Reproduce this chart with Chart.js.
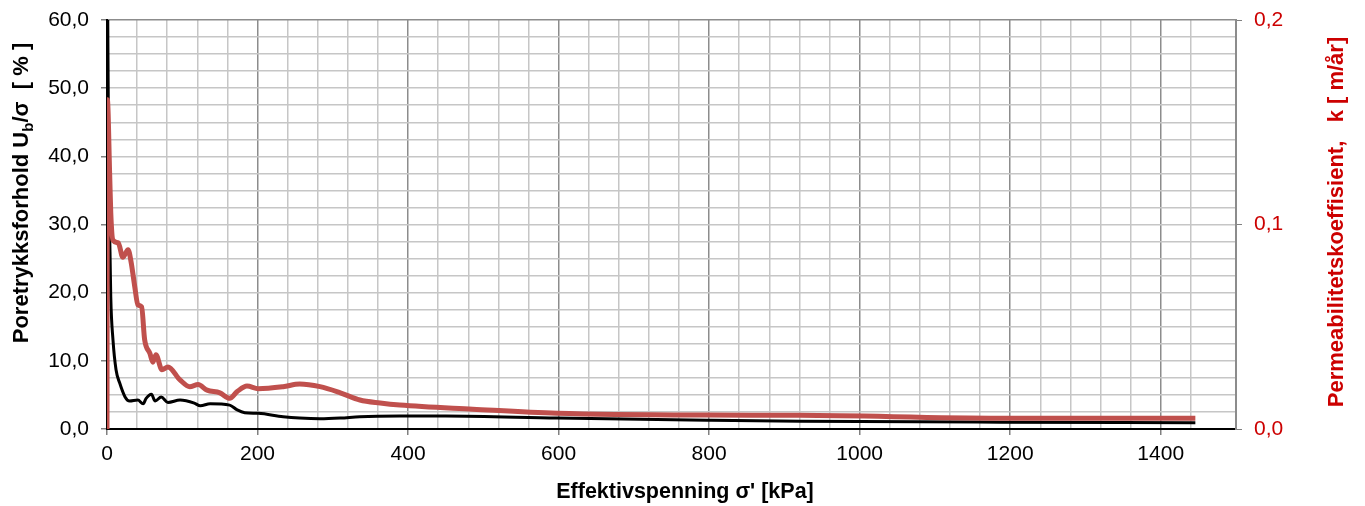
<!DOCTYPE html>
<html>
<head>
<meta charset="utf-8">
<script src="https://cdn.jsdelivr.net/npm/chart.js@4"></script>
<style>
  html, body { margin: 0; padding: 0; background: #fff; }
  #wrap { width: 1365px; height: 506px; position: relative; }
</style>
</head>
<body>
<div id="wrap"><canvas id="myChart"></canvas></div>
<script>
'use strict';

// poretrykksforhold (svart linje, venstre akse) [kPa] / [%]
const ubX = [1, 2.5, 4, 5, 8, 12, 17, 24, 30, 41, 48, 52, 59, 64, 72, 81, 97, 116, 124, 137, 163, 173, 183, 201, 234, 256, 283, 310, 336, 389, 450, 598, 797, 921, 1187, 1446];
const ubY = [60, 35, 26, 19.4, 13, 8.7, 6.7, 4.7, 4.1, 4.25, 3.7, 4.5, 5.1, 4.1, 4.7, 3.9, 4.25, 3.8, 3.4, 3.7, 3.5, 2.8, 2.4, 2.3, 1.8, 1.6, 1.5, 1.6, 1.8, 1.9, 1.9, 1.6, 1.3, 1.15, 1.0, 0.92];

// permeabilitet (rød linje, høyre akse) [kPa] / [m/år]
const kX = [0, 0.5, 3.5, 5, 8, 15, 21, 28, 32, 37, 41, 46, 50, 57, 61, 65, 73, 81, 97, 110, 121, 133, 150, 163, 173, 186, 201, 234, 256, 283, 310, 336, 363, 389, 486, 598, 797, 921, 1187, 1446];
const kY = [0, 0.161, 0.125, 0.1057, 0.0923, 0.091, 0.084, 0.0877, 0.0817, 0.0693, 0.0607, 0.0597, 0.0437, 0.037, 0.0327, 0.0363, 0.029, 0.0303, 0.024, 0.0207, 0.0217, 0.019, 0.0177, 0.015, 0.0183, 0.021, 0.0197, 0.0207, 0.022, 0.0207, 0.0177, 0.0142, 0.0127, 0.0117, 0.0097, 0.0077, 0.0068, 0.0067, 0.0053, 0.0053];

// akser
const xMax = 1500;
const leftMax = 60;
const rightMax = 0.2;
const xLabels = [0, 200, 400, 600, 800, 1000, 1200, 1400];
const leftLabels = [0, 10, 20, 30, 40, 50, 60];
const rightLabels = [0, 0.1, 0.2];

const FONT = "Arial, 'Liberation Sans', sans-serif";
const RED = '#cc0000';

const toPoints = (xs, ys) => xs.map((x, i) => ({ x: x, y: ys[i] }));
const near = (v, list) => list.some(l => Math.abs(v - l) < 1e-6);
const comma = (v, d) => v.toFixed(d).replace('.', ',');

// aksetitler (med senket b)
const titles = {
  id: 'titles',
  afterDraw(chart) {
    const ctx = chart.ctx;
    ctx.save();
    ctx.fillStyle = '#000';
    ctx.textBaseline = 'alphabetic';

    // venstre
    const big = 'bold 22px ' + FONT;
    const small = 'bold 15px ' + FONT;
    const p1 = 'Poretrykksforhold U', p2 = 'b', p3 = '/\u03c3  [ % ]';
    ctx.font = big;
    const w1 = ctx.measureText(p1).width, w3 = ctx.measureText(p3).width;
    ctx.font = small;
    const w2 = ctx.measureText(p2).width;
    const total = w1 + w2 + w3;
    ctx.translate(28, 193);
    ctx.rotate(-Math.PI / 2);
    let x = -total / 2;
    ctx.font = big;
    ctx.fillText(p1, x, 0);
    x += w1;
    ctx.font = small;
    ctx.fillText(p2, x, 5);
    x += w2;
    ctx.font = big;
    ctx.fillText(p3, x, 0);
    ctx.restore();

    // høyre
    ctx.save();
    ctx.fillStyle = RED;
    ctx.font = 'bold 22px ' + FONT;
    ctx.textAlign = 'center';
    ctx.textBaseline = 'middle';
    ctx.translate(1337, 222);
    ctx.rotate(-Math.PI / 2);
    ctx.fillText('Permeabilitetskoeffisient,   k [ m/år]', 0, 0);
    ctx.restore();

    // x
    ctx.save();
    ctx.fillStyle = '#000';
    ctx.font = 'bold 21.5px ' + FONT;
    ctx.textAlign = 'center';
    ctx.textBaseline = 'middle';
    ctx.fillText("Effektivspenning \u03c3' [kPa]", 685, 492);
    ctx.restore();
  }
};

const noPad = s => { s.paddingTop = 0; s.paddingBottom = 0; };

const ctxDom = document.getElementById('myChart').getContext('2d');

new Chart(ctxDom, {
  type: 'line',
  data: {
    datasets: [
      {
        label: 'k',
        data: toPoints(kX, kY),
        yAxisID: 'yR',
        borderColor: '#c0504d',
        borderWidth: 5,
        pointRadius: 0,
        cubicInterpolationMode: 'monotone',
        order: 0
      },
      {
        label: 'Ub/σ',
        data: toPoints(ubX, ubY),
        yAxisID: 'y',
        borderColor: '#000',
        borderWidth: 3,
        pointRadius: 0,
        cubicInterpolationMode: 'monotone',
        order: 1
      }
    ]
  },
  options: {
    responsive: true,
    maintainAspectRatio: false,
    animation: false,
    layout: { padding: { top: 20 } },
    plugins: {
      legend: { display: false },
      tooltip: { enabled: false }
    },
    scales: {
      x: {
        type: 'linear',
        min: 0,
        max: xMax,
        afterFit: s => { s.height = 77; s.paddingLeft = 0; s.paddingRight = 0; },
        ticks: {
          stepSize: 40,
          autoSkip: false,
          maxRotation: 0,
          padding: 7,
          color: '#000',
          font: { family: FONT, size: 21 },
          callback: v => near(v, xLabels) ? String(v) : ''
        },
        grid: {
          lineWidth: 1.5,
          tickLength: 6,
          color: c => (c.tick && c.tick.value % 200 === 0) ? '#8c8c8c' : '#c6c6c6',
          tickColor: c => (c.tick && near(c.tick.value, xLabels)) ? '#808080' : 'rgba(0,0,0,0)'
        },
        border: { display: true, color: '#000', width: 2 }
      },
      y: {
        position: 'left',
        min: 0,
        max: leftMax,
        afterFit: s => { s.width = 107; noPad(s); },
        ticks: {
          stepSize: 2.5,
          autoSkip: false,
          padding: 12,
          color: '#000',
          font: { family: FONT, size: 21 },
          callback: v => near(v, leftLabels) ? comma(v, 1) : ''
        },
        grid: {
          lineWidth: 1.5,
          tickLength: 6,
          color: c => (c.tick && c.tick.value === leftMax) ? '#8c8c8c' : '#c6c6c6',
          tickColor: c => (c.tick && near(c.tick.value, leftLabels)) ? '#808080' : 'rgba(0,0,0,0)'
        },
        border: { display: true, color: '#000', width: 2 }
      },
      yR: {
        position: 'right',
        min: 0,
        max: rightMax,
        afterFit: s => { s.width = 129; noPad(s); },
        ticks: {
          stepSize: 0.1,
          padding: 12,
          color: RED,
          font: { family: FONT, size: 21 },
          callback: v => near(v, rightLabels) ? comma(v, 1) : ''
        },
        grid: {
          drawOnChartArea: false,
          tickLength: 6,
          tickColor: '#808080'
        },
        border: { display: true, color: '#8c8c8c', width: 2 }
      }
    }
  },
  plugins: [titles]
});
</script>
</body>
</html>
